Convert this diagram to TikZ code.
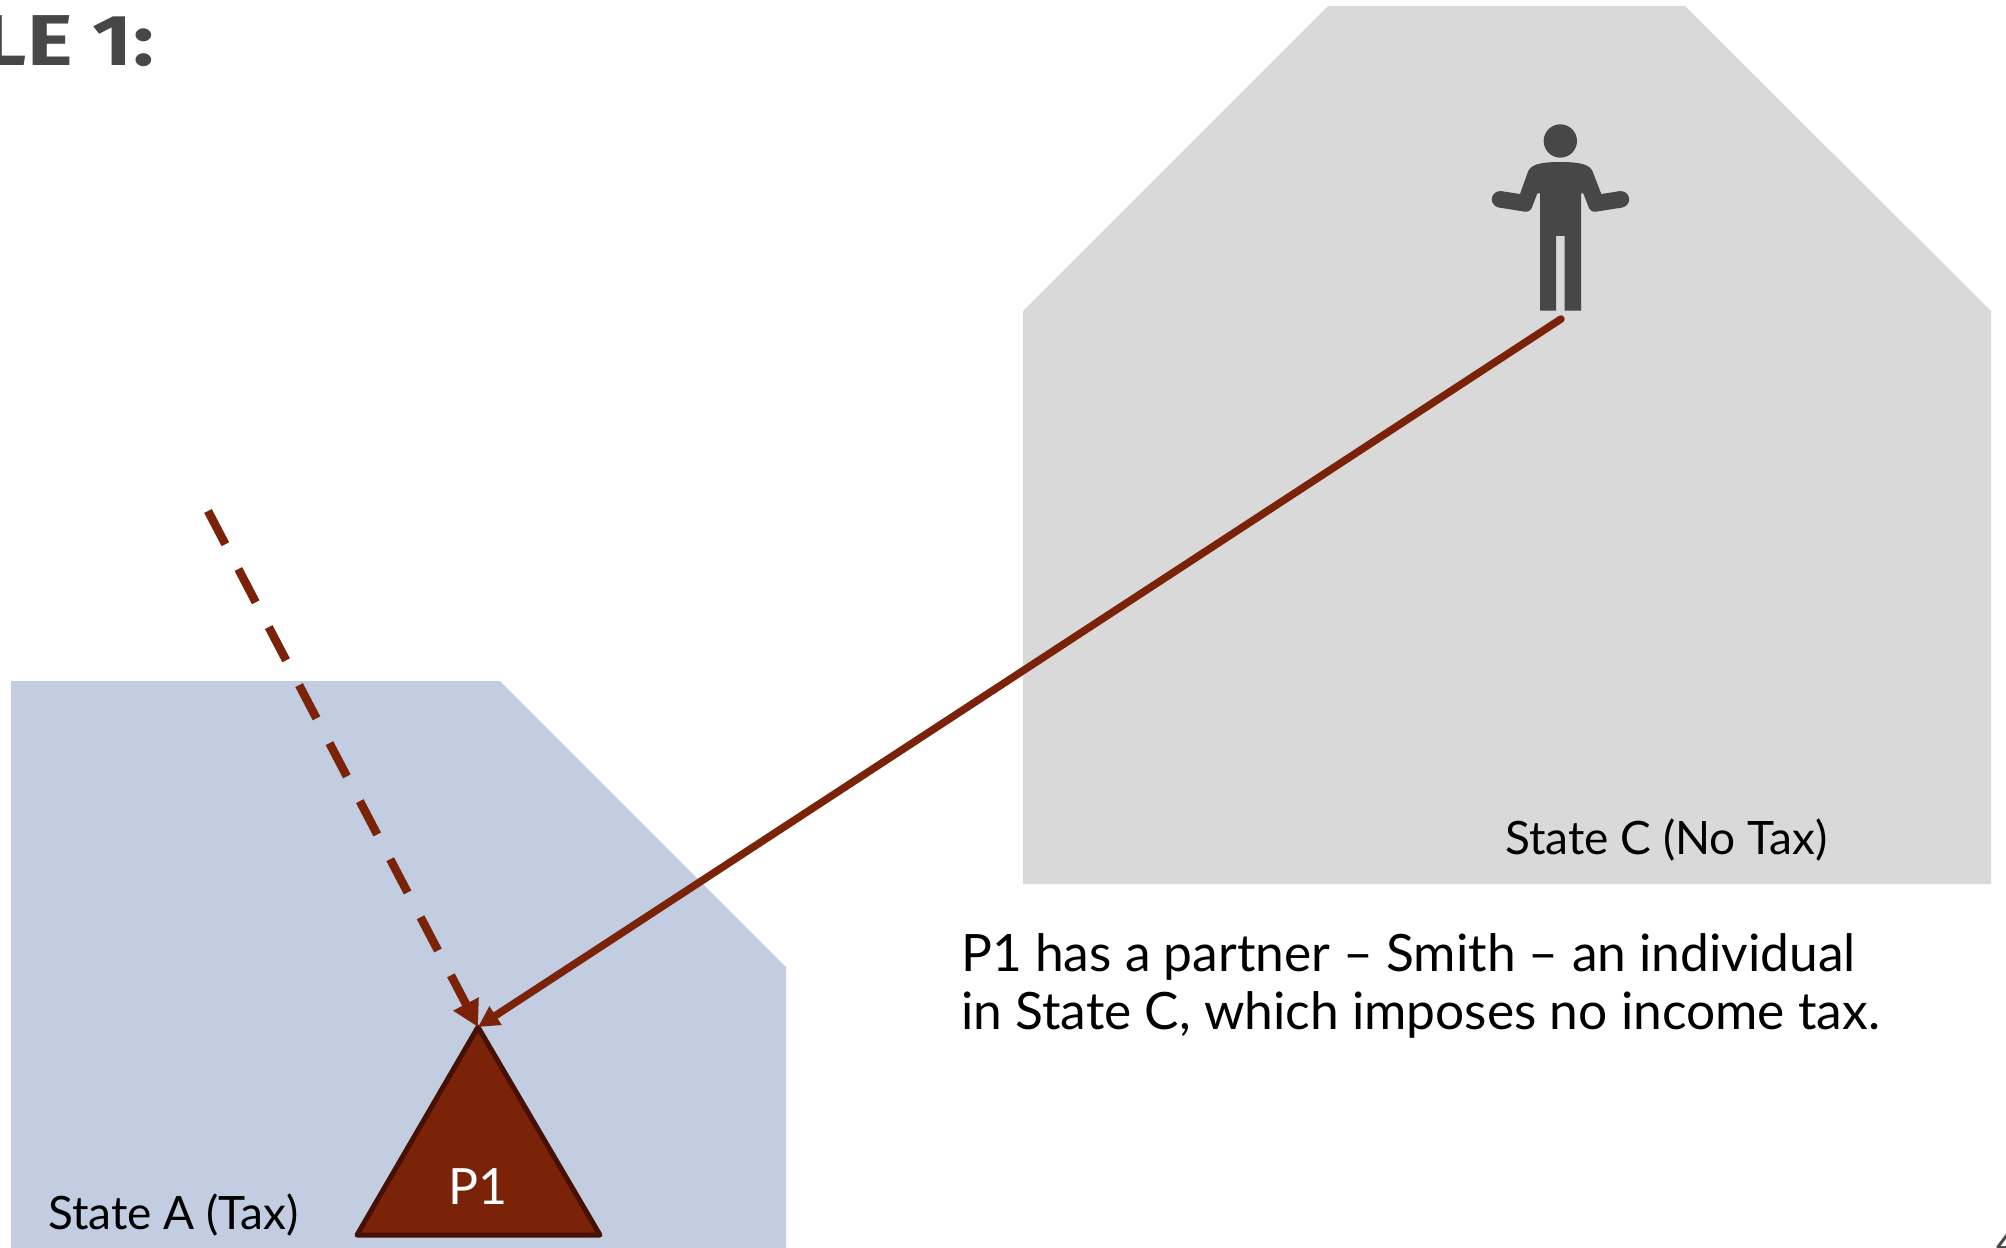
\documentclass[tikz,border=0pt]{standalone}
\usepackage{fontspec}
\setmainfont{Lato}
\newfontfamily\titlefont{Fira Sans}
\usetikzlibrary{arrows.meta}
\definecolor{rust}{HTML}{7B2309}
\definecolor{rustdark}{HTML}{461004}
\definecolor{graybox}{HTML}{D9D9D9}
\definecolor{bluebox}{HTML}{C2CDE1}
\definecolor{ink}{HTML}{474747}
\tikzset{
  link/.style={draw=rust,line width=7.5pt,line cap=round},
  lbl/.style={inner sep=0pt,font=\fontsize{46}{58}\selectfont,text=black,anchor=west},
}
\begin{document}
\begin{tikzpicture}[x=1pt,y=-1pt]
\useasboundingbox (0,0) rectangle (2006,1248);
\clip (0,0) rectangle (2006,1248);
\fill[graybox] (1328,6) -- (1685,6) -- (1991,311) -- (1991,884) -- (1023,884) -- (1023,311) -- cycle;
\fill[bluebox] (11,681) -- (500,681) -- (786,967) -- (786,1248) -- (11,1248) -- cycle;
\node[inner sep=0pt,anchor=east,xscale=1.2,font=\titlefont\bfseries\fontsize{72}{84}\selectfont,text=ink] (title) at (154,41) {LE 1:};
\node[lbl] (labelC) at (1505,840) {State C (No Tax)};
\node[lbl] (labelA) at (48,1215) {State A (Tax)};
\node[lbl,align=left,anchor=north west,font=\fontsize{51.5}{58}\selectfont] (desc) at (961,933) {P1 has a partner -- Smith -- an individual\\in State C, which imposes no income tax.};
\node[inner sep=0pt,anchor=base west,text=ink,font=\fontsize{42}{50}\selectfont] (pagenum) at (1996,1257) {4};
\draw[fill=rust,draw=rustdark,line width=5pt,line join=round] (478,1027) -- (600,1235) -- (357,1235) -- cycle;
\node[inner sep=0pt,text=white,font=\fontsize{50}{54}\selectfont] (p1) at (478,1187) {P1};
\coordinate (apex) at (478,1027);
\coordinate (feet) at (1561,319);
\coordinate (dashstart) at (208,511);
% person
\begin{scope}[shift={(1440,100)},x=0.3333pt,y=-0.3333pt]
\fill[ink] (361,123) circle (50);
\fill[ink] (543,298) circle (24.6);
\fill[ink] (180,298) circle (24.6);
\fill[ink] (300,632) -- (348,632) -- (348,408) -- (374,408) -- (374,632) -- (423,632) -- (423,280) -- (430,280) -- (446,322)
 .. controls (450,332) and (458,336) .. (468,335) -- (547,322.5) -- (539,273.5) -- (484,282) -- (458,215)
 .. controls (450,195) and (425,186) .. (361,186)
 .. controls (297,186) and (272,195) .. (264,215) -- (240,282) -- (184,273.5) -- (176,322.5) -- (254,335)
 .. controls (264,336) and (272,332) .. (276,322) -- (292,280) -- (300,280) -- cycle;
\end{scope}
\draw[link,line width=8.5pt,line cap=butt,dash pattern=on 37.5pt off 28pt,-{Triangle[length=26pt,width=27pt]}] (dashstart) -- (apex);
\draw[link,-{Triangle[length=21pt,width=21pt]}] (feet) -- (apex);
\end{tikzpicture}
\end{document}
